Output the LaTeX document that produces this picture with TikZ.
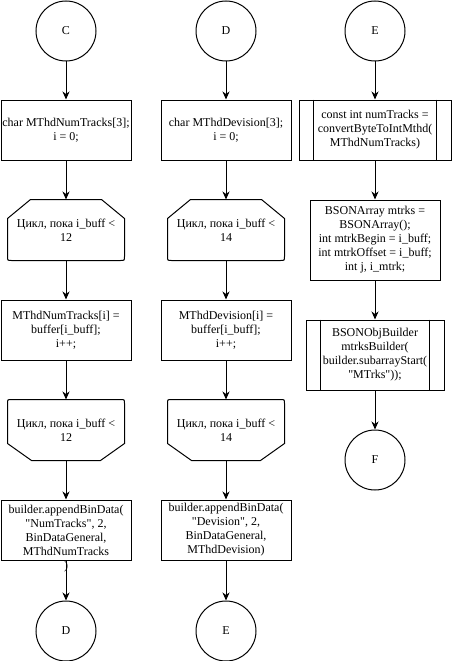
\documentclass[tikz,border=0pt]{standalone}
\usepackage{fontspec}
\newfontfamily\tnr{Liberation Serif}
\usetikzlibrary{arrows.meta,calc}
\tikzset{
  base/.style={inner sep=0pt, align=center, font=\tnr\fontsize{12}{14}\selectfont, line width=1pt},
  term/.style={base, circle, draw, minimum size=60pt},
  proc/.style={base, rectangle, draw, minimum width=130pt, minimum height=60pt},
  subr/.style={base, rectangle, draw, minimum height=60pt},
  loopbox/.style={base, rectangle, minimum width=116pt, minimum height=60pt},
  conn/.style={line width=1pt, -{Stealth[length=8pt,width=7pt,inset=2.5pt]}},
  shapeline/.style={line width=1pt},
}
\newcommand\myloopstart[1]{%
  \draw[shapeline] ([yshift=-19pt]#1.north west) -- ([xshift=23pt]#1.north west)
    -- ([xshift=-23pt]#1.north east) -- ([yshift=-19pt]#1.north east)
    -- ([yshift=4pt]#1.south east) .. controls (#1.south east) .. ([xshift=-4pt]#1.south east)
    -- ([xshift=4pt]#1.south west) .. controls (#1.south west) .. ([yshift=4pt]#1.south west)
    -- cycle;}
\newcommand\myloopend[1]{%
  \draw[shapeline] ([yshift=-4pt]#1.north west) .. controls (#1.north west) .. ([xshift=4pt]#1.north west)
    -- ([xshift=-4pt]#1.north east) .. controls (#1.north east) .. ([yshift=-4pt]#1.north east)
    -- ([yshift=17pt]#1.south east) -- ([xshift=-24pt]#1.south east)
    -- ([xshift=24pt]#1.south west) -- ([yshift=17pt]#1.south west)
    -- cycle;}
\newcommand\mysubr[1]{%
  \draw[shapeline] ([xshift=15pt]#1.north west) -- ([xshift=15pt]#1.south west);
  \draw[shapeline] ([xshift=-15pt]#1.north east) -- ([xshift=-15pt]#1.south east);}
\begin{document}
\begin{tikzpicture}[x=1pt,y=-1pt]
\useasboundingbox[fill=white] (0,0) rectangle (452,661);
% column 1
\node[term] (c1) at (66,31) {C};
\node[proc] (c2) at (66,130) {char MThdNumTracks[3];\\ i = 0;};
\node[loopbox] (c3) at (66,230) {Цикл, пока i\_buff <\\ 12};
\node[proc] (c4) at (66,330) {MThdNumTracks[i] =\\ buffer[i\_buff];\\ i++;};
\node[loopbox] (c5) at (66,430) {Цикл, пока i\_buff <\\ 12};
\node[proc] (c6) at (66,530) {builder.appendBinData(\\ "NumTracks", 2,\\ BinDataGeneral,\\ MThdNumTracks};
\node[base] (c6b) at (66,567) {)};
\node[term] (c7) at (66,631) {D};
\myloopstart{c3}
\myloopend{c5}
\draw[conn] (c1) -- (c2);
\draw[conn] (c2) -- (c3);
\draw[conn] (c3) -- (c4);
\draw[conn] (c4) -- (c5);
\draw[conn] (c5) -- (c6);
\draw[conn] (c6) -- (c7);
% column 2
\node[term] (d1) at (226,31) {D};
\node[proc] (d2) at (226,130) {char MThdDevision[3];\\ i = 0;};
\node[loopbox] (d3) at (226,230) {Цикл, пока i\_buff <\\ 14};
\node[proc] (d4) at (226,330) {MThdDevision[i] =\\ buffer[i\_buff];\\ i++;};
\node[loopbox] (d5) at (226,430) {Цикл, пока i\_buff <\\ 14};
\node[proc] (d6) at (226,530) {builder.appendBinData(\\ "Devision", 2,\\ BinDataGeneral,\\ MThdDevision)};
\node[term] (d7) at (226,631) {E};
\myloopstart{d3}
\myloopend{d5}
\draw[conn] (d1) -- (d2);
\draw[conn] (d2) -- (d3);
\draw[conn] (d3) -- (d4);
\draw[conn] (d4) -- (d5);
\draw[conn] (d5) -- (d6);
\draw[conn] (d6) -- (d7);
% column 3
\node[term] (e1) at (375,31) {E};
\node[subr, minimum width=152pt] (e2) at (375,130) {const int numTracks =\\ convertByteToIntMthd(\\ MThdNumTracks)};
\node[proc, minimum height=80pt] (e3) at (375,240) {BSONArray mtrks =\\ BSONArray();\\ int mtrkBegin = i\_buff;\\ int mtrkOffset = i\_buff;\\ int j, i\_mtrk;};
\node[subr, minimum width=138pt, minimum height=70pt] (e4) at (375,355) {BSONObjBuilder\\ mtrksBuilder(\\ builder.subarrayStart(\\ "MTrks"));};
\node[term] (e5) at (375,460) {F};
\mysubr{e2}
\mysubr{e4}
\draw[conn] (e1) -- (e2);
\draw[conn] (e2) -- (e3);
\draw[conn] (e3) -- (e4);
\draw[conn] (e4) -- (e5);
\end{tikzpicture}
\end{document}
